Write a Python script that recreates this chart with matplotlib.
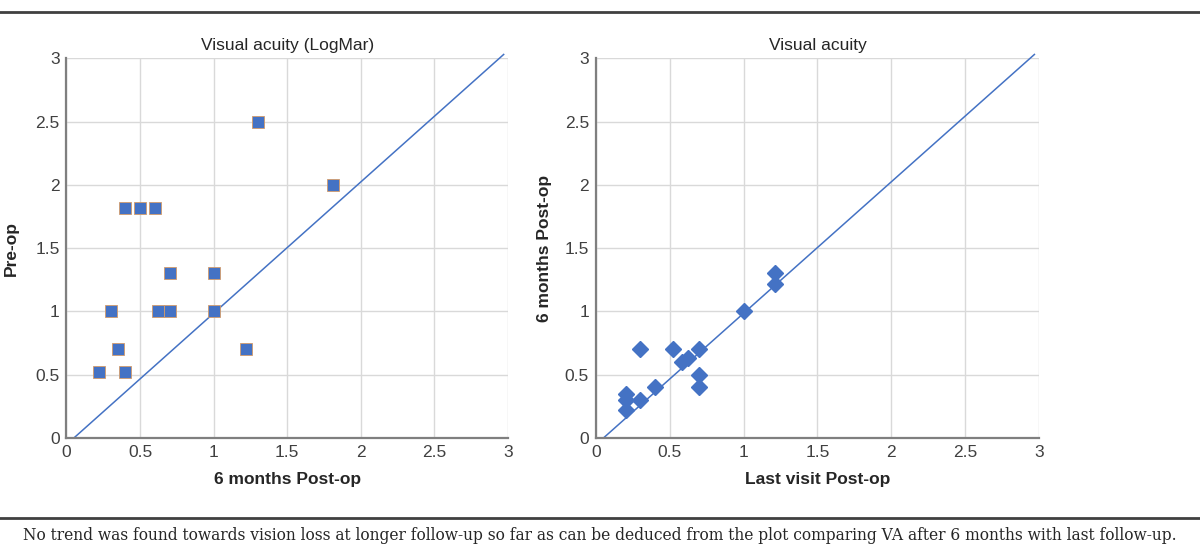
import matplotlib
matplotlib.use("Agg")
import matplotlib.pyplot as plt

# left chart: 6 months post-op vs pre-op
six_months = [1.30, 1.81, 0.40, 0.50, 0.60, 0.70, 1.00, 0.30, 0.62, 0.70, 1.00, 0.35, 1.22, 0.22, 0.40]
pre_op = [2.50, 2.00, 1.82, 1.82, 1.82, 1.30, 1.30, 1.00, 1.00, 1.00, 1.00, 0.70, 0.70, 0.52, 0.52]

# right chart: last visit vs 6 months post-op
last_visit = [0.30, 0.52, 0.70, 0.58, 0.62, 0.70, 0.70, 0.40, 0.20, 0.20, 0.30, 0.20, 1.00, 1.21, 1.21]
six_months_b = [0.70, 0.70, 0.70, 0.60, 0.63, 0.50, 0.40, 0.40, 0.35, 0.30, 0.30, 0.22, 1.00, 1.30, 1.22]

# reference line drawn in both charts
ref_x = [0.05, 2.97]
ref_y = [0.0, 3.03]

ticks = [0, 0.5, 1, 1.5, 2, 2.5, 3]
tick_labels = ["0", "0.5", "1", "1.5", "2", "2.5", "3"]

blue = "#4472C4"
plt.rcParams["font.family"] = ["Liberation Sans", "DejaVu Sans"]

fig = plt.figure(figsize=(12, 5.48), dpi=100)
ax1 = fig.add_axes([0.0554, 0.2007, 0.368, 0.693])
ax2 = fig.add_axes([0.4967, 0.2007, 0.369, 0.693])


def style(ax, title, xlabel, ylabel, ypad):
    ax.set_xlim(0, 3)
    ax.set_ylim(0, 3)
    ax.set_xticks(ticks)
    ax.set_yticks(ticks)
    ax.set_xticklabels(tick_labels)
    ax.set_yticklabels(tick_labels)
    ax.grid(True, color="#d9d9d9", linewidth=1)
    ax.set_axisbelow(True)
    for s in ["top", "right"]:
        ax.spines[s].set_visible(False)
    for s in ["left", "bottom"]:
        ax.spines[s].set_color("#7f7f7f")
        ax.spines[s].set_linewidth(1.6)
    ax.tick_params(length=0, labelsize=12.5, colors="#404040", pad=5)
    ax.set_title(title, fontsize=12.5, color="#262626", pad=6)
    ax.set_xlabel(xlabel, fontsize=12.5, fontweight="bold", color="#262626", labelpad=9)
    ax.set_ylabel(ylabel, fontsize=12.5, fontweight="bold", color="#262626", labelpad=ypad)


ax1.plot(ref_x, ref_y, color=blue, linewidth=1.1, clip_on=False)
ax1.plot(six_months, pre_op, linestyle="none", marker="s", markersize=8,
         markerfacecolor=blue, markeredgecolor="#d39b6a", markeredgewidth=0.6, zorder=3)
style(ax1, "Visual acuity (LogMar)", "6 months Post-op", "Pre-op", 12)

ax2.plot(ref_x, ref_y, color=blue, linewidth=1.1, clip_on=False)
ax2.plot(last_visit, six_months_b, linestyle="none", marker="D", markersize=8.5,
         color=blue, zorder=3)
style(ax2, "Visual acuity", "Last visit Post-op", "6 months Post-op", 9)

# horizontal rules and caption
fig.add_artist(plt.Line2D([0, 1], [1 - 12 / 548, 1 - 12 / 548], color="#404040", linewidth=2))
fig.add_artist(plt.Line2D([0, 1], [1 - 518 / 548, 1 - 518 / 548], color="#404040", linewidth=2))
fig.text(0.5, 1 - 536 / 548,
         "No trend was found towards vision loss at longer follow-up so far as can be deduced "
         "from the plot comparing VA after 6 months with last follow-up.",
         ha="center", va="center", fontsize=11.2, family="DejaVu Serif", color="#262626")

fig.savefig("out.png", dpi=100)
